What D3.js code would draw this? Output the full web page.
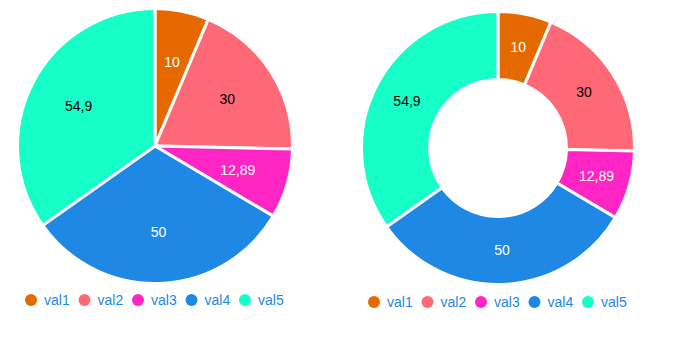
<!DOCTYPE html>
<html>
<head>
<meta charset="utf-8">
<script src="https://cdn.jsdelivr.net/npm/d3@7"></script>
<style>
  html, body { margin: 0; padding: 0; background: #fff; }
  svg { display: block; font-family: "Liberation Sans", Arial, sans-serif; }
</style>
</head>
<body>
<svg id="chart" width="673" height="342"></svg>
<script>
// Series shared by both charts
const categories = ["val1", "val2", "val3", "val4", "val5"];
const values = [10, 30, 12.89, 50, 54.9];
const valueLabels = ["10", "30", "12,89", "50", "54,9"];
const sliceColors = ["#e66900", "#ff6877", "#ff24c4", "#1f88e5", "#16ffc8"];
const labelColors = ["#ffffff", "#000000", "#ffffff", "#ffffff", "#000000"];

const svg = d3.select("#chart");
const color = d3.scaleOrdinal().domain(categories).range(sliceColors);
const labelColor = d3.scaleOrdinal().domain(categories).range(labelColors);

const data = categories.map((c, i) => ({ key: c, value: values[i], label: valueLabels[i] }));
const pie = d3.pie().sort(null).value(d => d.value);

function drawChart(cx, cy, outer, inner, labelR, legendX, legendY) {
  const g = svg.append("g").attr("transform", `translate(${cx},${cy})`);
  const arc = d3.arc().innerRadius(inner).outerRadius(outer);
  const labelArc = d3.arc().innerRadius(labelR).outerRadius(labelR);
  const arcs = pie(data);

  g.selectAll("path")
    .data(arcs)
    .join("path")
    .attr("d", arc)
    .attr("fill", d => color(d.data.key))
    .attr("stroke", "#ffffff")
    .attr("stroke-width", 3)
    .attr("stroke-linejoin", "miter");

  g.selectAll("text")
    .data(arcs)
    .join("text")
    .attr("transform", d => `translate(${labelArc.centroid(d)})`)
    .attr("text-anchor", "middle")
    .attr("dy", "0.35em")
    .attr("font-size", 14)
    .attr("fill", d => labelColor(d.data.key))
    .text(d => d.data.label);

  // Legend row
  const step = 53.5;
  const lg = svg.append("g").attr("transform", `translate(${legendX},${legendY})`);
  const item = lg.selectAll("g")
    .data(categories)
    .join("g")
    .attr("transform", (d, i) => `translate(${i * step},0)`);
  item.append("circle")
    .attr("r", 6)
    .attr("fill", d => color(d));
  item.append("text")
    .attr("x", 13)
    .attr("dy", "0.35em")
    .attr("font-size", 14)
    .attr("fill", "#1e88e5")
    .text(d => d);
}

drawChart(155, 146, 137.5, 0, 86, 31, 300);
drawChart(498, 148, 136.5, 68.5, 102.5, 374, 302);
</script>
</body>
</html>
